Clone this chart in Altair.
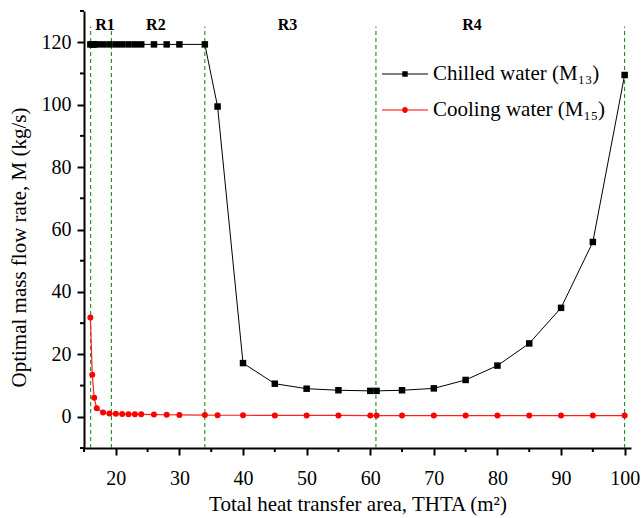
import altair as alt
import pandas as pd

FONT = "Liberation Serif"

# ---------------- data ----------------
thta = [16.0, 16.3, 16.6, 17, 18, 19, 20, 21, 22, 23, 24, 26, 28, 30, 34,
        36, 40, 45, 50, 55, 60, 61, 65, 70, 75, 80, 85, 90, 95, 100]
chilled = [119.3, 119.3, 119.3, 119.3, 119.3, 119.3, 119.3, 119.3, 119.3, 119.3,
           119.3, 119.3, 119.3, 119.3, 119.3,
           99.4, 17.2, 10.6, 9.0, 8.5, 8.3, 8.3, 8.5, 9.1, 11.8, 16.4, 23.5, 34.9, 56.0, 109.5]
cooling = [31.8, 13.5, 6.1, 2.7, 1.4, 1.05, 0.95, 0.9, 0.85, 0.8,
           0.8, 0.7, 0.65, 0.6, 0.55, 0.5, 0.5, 0.45, 0.45, 0.45,
           0.4, 0.4, 0.4, 0.4, 0.4, 0.4, 0.4, 0.4, 0.4, 0.4]
series_names = ["Chilled water (M\u2081\u2083)", "Cooling water (M\u2081\u2085)"]
series_colors = ["#000000", "#ff0000"]

boundary_x = [16.05, 19.3, 34.0, 60.9, 100.0]
region_labels = ["R1", "R2", "R3", "R4"]
region_label_x = [18.3, 26.3, 47.0, 76.0]

x_major = [20, 30, 40, 50, 60, 70, 80, 90, 100]
x_minor = [15, 25, 35, 45, 55, 65, 75, 85, 95]
y_major = [0, 20, 40, 60, 80, 100, 120]
y_minor = [-10, 10, 30, 50, 70, 90, 110, 130]

df_ch = pd.DataFrame({"thta": thta, "m": chilled})
df_co = pd.DataFrame({"thta": thta, "m": cooling})
df_leg = pd.DataFrame({"thta": [thta[0], thta[0]], "m": [chilled[0], cooling[0]],
                       "series": series_names})
df_bound = pd.DataFrame({"thta": boundary_x})
df_reg = pd.DataFrame({"thta": region_label_x, "label": region_labels})
df_xminor = pd.DataFrame({"thta": x_minor})
df_yminor = pd.DataFrame({"m": y_minor})

# legend symbols: thin line + marker (custom paths)
sym_square = "M-1.278,-0.03H1.278V0.03H-1.278ZM-0.15,-0.15H0.15V0.15H-0.15Z"
sym_circle = ("M-1.278,-0.03H1.278V0.03H-1.278Z"
              "M-0.16,0A0.16,0.16,0,1,1,0.16,0A0.16,0.16,0,1,1,-0.16,0Z")

# ---------------- scales & axes ----------------
xs = alt.Scale(domain=[15, 101], nice=False, zero=False)
ys = alt.Scale(domain=[-10, 130], nice=False, zero=False)

X_TITLE = "Total heat transfer area, THTA (m\u00b2)"
Y_TITLE = "Optimal mass flow rate, M (kg/s)"

common_axis = dict(
    tickSize=7, tickWidth=2, tickColor="black",
    domainColor="black", domainWidth=2, grid=False,
    labelFont=FONT, labelFontSize=20, labelColor="black",
    labelOverlap=False, labelFlush=False,
    titleFont=FONT, titleFontSize=21, titleFontWeight="normal", titleColor="black",
)
x_axis = alt.Axis(values=x_major, labelPadding=13, titlePadding=5, **common_axis)
y_axis = alt.Axis(values=y_major, labelPadding=6, titlePadding=12, titleY=236,
                  **common_axis)


def X(field=None, datum=None):
    if datum is not None:
        return alt.X(datum=datum, type="quantitative", scale=xs, axis=x_axis, title=X_TITLE)
    return alt.X(field, type="quantitative", scale=xs, axis=x_axis, title=X_TITLE)


def Y(field=None, datum=None):
    if datum is not None:
        return alt.Y(datum=datum, type="quantitative", scale=ys, axis=y_axis, title=Y_TITLE)
    return alt.Y(field, type="quantitative", scale=ys, axis=y_axis, title=Y_TITLE)


# ---------------- layers ----------------
line_ch = alt.Chart(df_ch).mark_line(color="black", strokeWidth=1).encode(
    x=X("thta"), y=Y("m"),
)
bounds = alt.Chart(df_bound).mark_rule(
    color="#008000", strokeWidth=1, strokeDash=[4, 3]
).encode(
    x=X("thta"), y=Y(datum=-10), y2=alt.datum(125),
)
pts_ch = alt.Chart(df_ch).mark_square(color="black", size=42, opacity=1).encode(
    x=X("thta"), y=Y("m"),
)
line_co = alt.Chart(df_co).mark_line(color="#ff2020", strokeWidth=1.2).encode(
    x=X("thta"), y=Y("m"),
)
pts_co = alt.Chart(df_co).mark_circle(color="#ff0000", size=36, opacity=1).encode(
    x=X("thta"), y=Y("m"),
)

# minor ticks (outside the plot, 4 px long)
xminor = alt.Chart(df_xminor).mark_rule(
    color="black", strokeWidth=2, y2Offset=4, clip=False
).encode(
    x=X("thta"), y=Y(datum=-10), y2=alt.datum(-10),
)
yminor = alt.Chart(df_yminor).mark_rule(
    color="black", strokeWidth=2, x2Offset=-4, clip=False
).encode(
    y=Y("m"), x=X(datum=15), x2=alt.datum(15),
)

reg_text = alt.Chart(df_reg).mark_text(
    font=FONT, fontSize=16, fontWeight="bold", color="black",
    align="center", baseline="middle",
).encode(
    x=X("thta"), y=Y(datum=125.6), text="label:N",
)

leg = alt.Legend(
    orient="none", legendX=303, legendY=45, padding=0,
    symbolSize=1296, symbolStrokeWidth=0, symbolOpacity=1,
    labelFont=FONT, labelFontSize=21, labelColor="black", labelOffset=10,
    labelLimit=400, rowPadding=8,
)
legend_layer = alt.Chart(df_leg).transform_filter("false").mark_point(
    filled=True, opacity=1
).encode(
    x=X("thta"), y=Y("m"),
    fill=alt.Fill("series:N", scale=alt.Scale(domain=series_names, range=series_colors),
                  legend=leg, title=None),
    shape=alt.Shape("series:N", scale=alt.Scale(domain=series_names,
                                                range=[sym_square, sym_circle]),
                    legend=leg, title=None),
)

chart = alt.layer(
    line_ch, bounds, line_co, pts_co, pts_ch, xminor, yminor, reg_text, legend_layer
).properties(
    width=547, height=437,
    autosize=alt.AutoSizeParams(type="none"),
    padding={"left": 84, "top": 11, "right": 10, "bottom": 70},
    background="white",
).configure_view(
    stroke=None
).configure_axis(
    labelFont=FONT, titleFont=FONT,
)

chart.save("out.html", embed_options={"renderer": "svg", "actions": False})
